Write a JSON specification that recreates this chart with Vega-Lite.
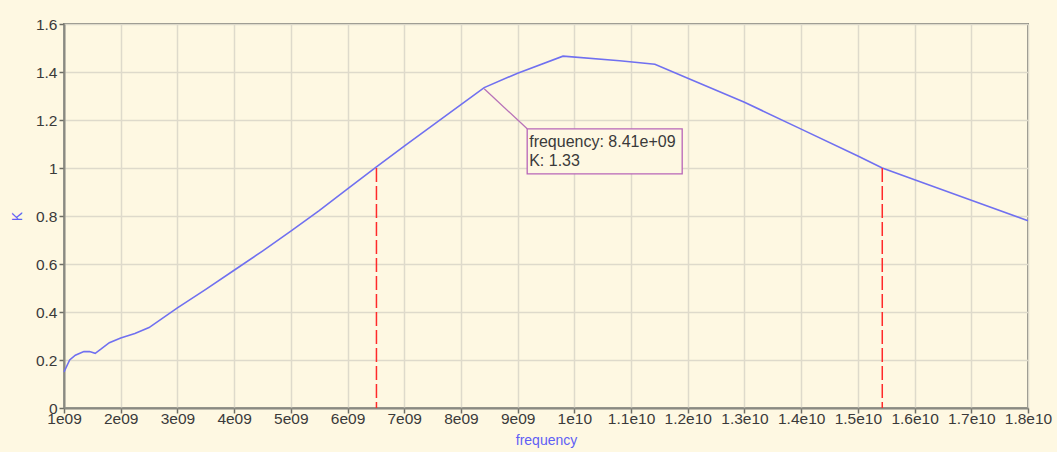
{
  "$schema": "https://vega.github.io/schema/vega-lite/v6.json",
  "width": 964,
  "height": 384,
  "autosize": {"type": "none"},
  "padding": {"left": 64, "top": 24, "right": 29, "bottom": 44},
  "background": "#FEF8E2",
  "config": {
    "font": "Liberation Sans",
    "view": {"stroke": "#8A8A82", "strokeWidth": 2, "fill": "#FEF8E2"}
  },
  "datasets": {
    "curve": [
      {"frequency": 1.0e9, "K": 0.15},
      {"frequency": 1.1e9, "K": 0.2},
      {"frequency": 1.2e9, "K": 0.22},
      {"frequency": 1.35e9, "K": 0.235},
      {"frequency": 1.45e9, "K": 0.235},
      {"frequency": 1.55e9, "K": 0.228},
      {"frequency": 1.65e9, "K": 0.245},
      {"frequency": 1.8e9, "K": 0.272},
      {"frequency": 2.0e9, "K": 0.292},
      {"frequency": 2.25e9, "K": 0.31},
      {"frequency": 2.5e9, "K": 0.335},
      {"frequency": 3.0e9, "K": 0.417},
      {"frequency": 3.5e9, "K": 0.494},
      {"frequency": 4.0e9, "K": 0.574},
      {"frequency": 4.5e9, "K": 0.654},
      {"frequency": 5.0e9, "K": 0.737},
      {"frequency": 5.5e9, "K": 0.822},
      {"frequency": 6.0e9, "K": 0.913},
      {"frequency": 6.51e9, "K": 1.005},
      {"frequency": 7.0e9, "K": 1.091},
      {"frequency": 7.5e9, "K": 1.178},
      {"frequency": 8.0e9, "K": 1.264},
      {"frequency": 8.41e9, "K": 1.335},
      {"frequency": 9.0e9, "K": 1.395},
      {"frequency": 9.8e9, "K": 1.466},
      {"frequency": 1.08e10, "K": 1.447},
      {"frequency": 1.142e10, "K": 1.432},
      {"frequency": 1.2e10, "K": 1.374},
      {"frequency": 1.3e10, "K": 1.274},
      {"frequency": 1.4e10, "K": 1.162},
      {"frequency": 1.5e10, "K": 1.05},
      {"frequency": 1.543e10, "K": 1.0},
      {"frequency": 1.6e10, "K": 0.951},
      {"frequency": 1.7e10, "K": 0.866},
      {"frequency": 1.8e10, "K": 0.78}
    ],
    "cuts": [
      {"frequency": 6.51e9, "K": 1.0},
      {"frequency": 1.543e10, "K": 1.0}
    ],
    "note": [
      {"frequency": 8.41e9, "K": 1.33, "line1": "frequency: 8.41e+09", "line2": "K: 1.33"}
    ]
  },
  "layer": [
    {
      "data": {"name": "curve"},
      "mark": {"type": "line", "color": "#7070F0", "strokeWidth": 1.6},
      "encoding": {
        "x": {
          "field": "frequency",
          "type": "quantitative",
          "scale": {"domain": [1e9, 1.8e10], "nice": false, "zero": false},
          "axis": {
            "title": "frequency",
            "values": [1e9, 2e9, 3e9, 4e9, 5e9, 6e9, 7e9, 8e9, 9e9, 1e10, 1.1e10, 1.2e10, 1.3e10, 1.4e10, 1.5e10, 1.6e10, 1.7e10, 1.8e10],
            "labelExpr": "datum.value < 9.5e9 ? format(datum.value/1e9,'d') + 'e09' : format(datum.value/1e10,'~g') + 'e10'",
            "labelFlush": false,
            "labelOverlap": false,
            "grid": true,
            "gridColor": "#DEDACB",
            "gridWidth": 1.5,
            "domainColor": "#8A8A82",
            "domainWidth": 2,
            "tickColor": "#6E6E66",
            "tickSize": 5,
            "tickWidth": 1.5,
            "labelFont": "Liberation Sans",
            "labelFontSize": 15.5,
            "labelColor": "#3A3A3A",
            "labelPadding": -2,
            "titleColor": "#5F5FF5",
            "titleFont": "Liberation Sans",
            "titleFontSize": 14,
            "titleFontWeight": "normal",
            "titleY": 25,
            "titleBaseline": "top"
          }
        },
        "y": {
          "field": "K",
          "type": "quantitative",
          "scale": {"domain": [0, 1.6], "nice": false},
          "axis": {
            "title": "K",
            "values": [0, 0.2, 0.4, 0.6, 0.8, 1, 1.2, 1.4, 1.6],
            "format": "~g",
            "labelOverlap": false,
            "labelFlush": false,
            "grid": true,
            "gridColor": "#DEDACB",
            "gridWidth": 1.5,
            "domainColor": "#8A8A82",
            "domainWidth": 2,
            "tickColor": "#6E6E66",
            "tickSize": 5,
            "tickWidth": 1.5,
            "labelFont": "Liberation Sans",
            "labelFontSize": 15.5,
            "labelColor": "#3A3A3A",
            "labelPadding": 2,
            "titleColor": "#5F5FF5",
            "titleFont": "Liberation Sans",
            "titleFontSize": 14,
            "titleFontWeight": "normal",
            "titleX": -40,
            "titleY": 192
          }
        }
      }
    },
    {
      "data": {"name": "cuts"},
      "mark": {"type": "rule", "color": "#FF2A2A", "strokeWidth": 1.5, "strokeDash": [14, 4]},
      "encoding": {
        "x": {"field": "frequency", "type": "quantitative"},
        "y": {"field": "K", "type": "quantitative"},
        "y2": {"datum": 0}
      }
    },
    {
      "data": {"name": "note"},
      "mark": {"type": "rule", "color": "#B872B8", "strokeWidth": 1.3, "x2Offset": 43, "y2Offset": 40},
      "encoding": {
        "x": {"field": "frequency", "type": "quantitative"},
        "y": {"field": "K", "type": "quantitative"},
        "x2": {"field": "frequency"},
        "y2": {"field": "K"}
      }
    },
    {
      "data": {"name": "note"},
      "mark": {"type": "rect", "fill": "#FEF8E2", "stroke": "#B865B8", "strokeWidth": 1.3, "xOffset": 43, "x2Offset": 198, "yOffset": 40, "y2Offset": 85},
      "encoding": {
        "x": {"field": "frequency", "type": "quantitative"},
        "y": {"field": "K", "type": "quantitative"},
        "x2": {"field": "frequency"},
        "y2": {"field": "K"}
      }
    },
    {
      "data": {"name": "note"},
      "mark": {"type": "text", "align": "left", "baseline": "alphabetic", "dx": 45, "dy": 58, "font": "Liberation Sans", "fontSize": 16, "color": "#3A3A3A"},
      "encoding": {
        "x": {"field": "frequency", "type": "quantitative"},
        "y": {"field": "K", "type": "quantitative"},
        "text": {"field": "line1"}
      }
    },
    {
      "data": {"name": "note"},
      "mark": {"type": "text", "align": "left", "baseline": "alphabetic", "dx": 45, "dy": 77, "font": "Liberation Sans", "fontSize": 16, "color": "#3A3A3A"},
      "encoding": {
        "x": {"field": "frequency", "type": "quantitative"},
        "y": {"field": "K", "type": "quantitative"},
        "text": {"field": "line2"}
      }
    }
  ]
}
